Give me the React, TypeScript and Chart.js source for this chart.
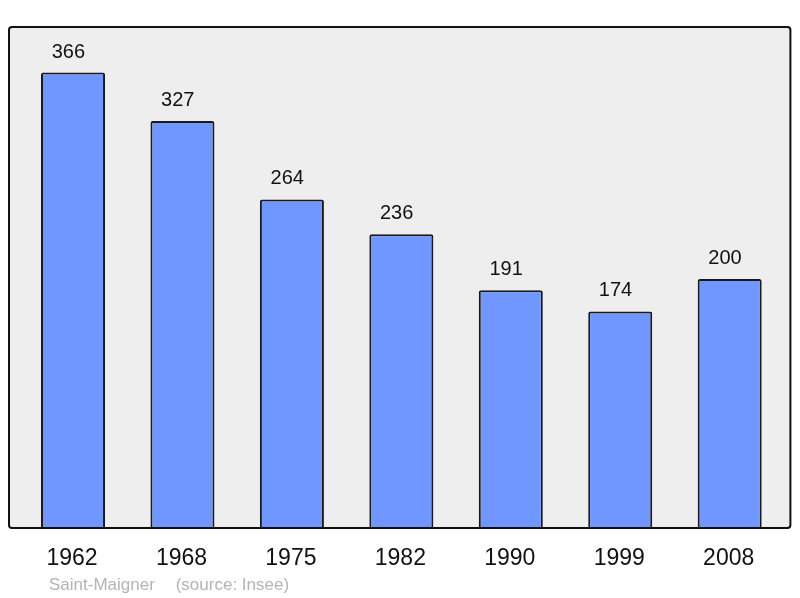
import React, { useEffect, useRef } from "react";
import { Chart, registerables } from "chart.js";

Chart.register(...registerables);

const years = ["1962", "1968", "1975", "1982", "1990", "1999", "2008"];
const population = [366, 327, 264, 236, 191, 174, 200];
const commune = "Saint-Maigner";
const source = "(source: Insee)";

const FONT = '"Liberation Sans", Arial, sans-serif';

function boxPath(ctx: any, l: number, t: number, r: number, b: number, rad: number) {
  ctx.beginPath();
  ctx.moveTo(l + rad, t);
  ctx.lineTo(r - rad, t);
  ctx.quadraticCurveTo(r, t, r, t + rad);
  ctx.lineTo(r, b - rad);
  ctx.quadraticCurveTo(r, b, r - rad, b);
  ctx.lineTo(l + rad, b);
  ctx.quadraticCurveTo(l, b, l, b - rad);
  ctx.lineTo(l, t + rad);
  ctx.quadraticCurveTo(l, t, l + rad, t);
  ctx.closePath();
}

const decorPlugin = {
  id: "decor",
  beforeDatasetsDraw(chart: any) {
    const { ctx, chartArea } = chart;
    ctx.save();
    boxPath(ctx, chartArea.left - 9.3, chartArea.top, chartArea.right + 6, chartArea.bottom, 3);
    ctx.fillStyle = "#eeeeee";
    ctx.fill();
    ctx.restore();
  },
  afterDatasetsDraw(chart: any) {
    const { ctx, chartArea } = chart;
    const b = chartArea.bottom;
    ctx.save();
    boxPath(ctx, chartArea.left - 9.3, chartArea.top, chartArea.right + 6, b, 3);
    ctx.lineWidth = 2;
    ctx.strokeStyle = "#111111";
    ctx.stroke();

    const meta = chart.getDatasetMeta(0);
    ctx.fillStyle = "#111111";
    ctx.textAlign = "center";
    ctx.textBaseline = "alphabetic";
    ctx.font = `20px ${FONT}`;
    meta.data.forEach((bar: any, i: number) => {
      ctx.fillText(String(population[i]), bar.x - 4.7, bar.y - 15);
    });
    ctx.font = `23px ${FONT}`;
    meta.data.forEach((bar: any, i: number) => {
      ctx.fillText(years[i], bar.x - 1, b + 37);
    });
    ctx.font = `17px ${FONT}`;
    ctx.textAlign = "left";
    ctx.fillStyle = "#b4b4b4";
    ctx.fillText(commune, chartArea.left + 30.7, b + 62);
    ctx.fillText(source, chartArea.left + 157.4, b + 62);
    ctx.restore();
  },
};

export default function App() {
  const ref = useRef<HTMLCanvasElement>(null);
  useEffect(() => {
    if (!ref.current) return;
    const maxV = Math.max(...population) * 1.1;
    const chart = new Chart(ref.current, {
      type: "bar",
      data: {
        labels: years,
        datasets: [
          {
            data: population,
            backgroundColor: "#7096ff",
            borderColor: "#1a1a1a",
            borderWidth: 2,
            borderRadius: 2,
            borderSkipped: "start",
            barPercentage: 0.585,
            categoryPercentage: 1,
          },
        ],
      },
      options: {
        responsive: false,
        animation: false,
        events: [],
        layout: { padding: { left: 18.3, right: 15.6, top: 27, bottom: 70 } },
        plugins: { legend: { display: false }, tooltip: { enabled: false } },
        scales: {
          x: { display: false },
          y: { display: false, min: 0, max: maxV },
        },
      },
      plugins: [decorPlugin],
    });
    return () => chart.destroy();
  }, []);
  return (
    <div style={{ position: "absolute", left: 0, top: 0, width: 800, height: 598 }}>
      <canvas ref={ref} width={800} height={598} />
    </div>
  );
}
